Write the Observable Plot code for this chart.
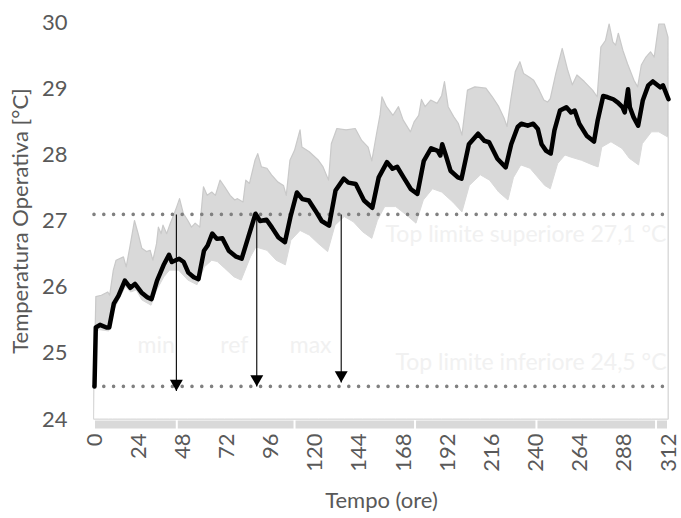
<!DOCTYPE html>
<html><head><meta charset="utf-8">
<script src="https://cdn.jsdelivr.net/npm/d3@7"></script>
<script src="https://cdn.jsdelivr.net/npm/@observablehq/plot@0.6"></script>
<style>body{margin:0;background:#fff}#chart{width:681px;height:518px}</style>
</head><body><div id="chart"></div>
<script>
// ---- data ----
const xTicks = [0,24,48,72,96,120,144,168,192,216,240,264,288,312];
const yTicks = [24,25,26,27,28,29,30];

const refHours = [0,0.7,3,6.5,8,10.5,13,16.5,19.5,22,25.5,28.5,31,34,37.5,40.5,42,46,48.5,51,54,56.5,59.5,61.5,64,66.5,69.5,73,77,80,83.5,87.5,90,93.5,96.5,100,103.5,106.5,110,113,116.5,120,123.5,127.5,131,135.5,138,142,146.5,151,154.5,159,162,164.5,168,172,175.5,179,183,186.5,188,189,191,193.5,197.5,199.5,203.5,208.5,212,214.5,219,223.5,226.5,230,232,235.5,238.5,241,243,245.5,248,250,253,256.5,259,261,263.5,267.5,271.5,273.5,276.5,279,282,284.5,287,288.2,290,291,293,295.5,298,301,303.5,307.5,309,312];
const refTemp = [24.5,25.39,25.43,25.39,25.39,25.75,25.87,26.1,25.99,26.05,25.92,25.85,25.82,26.1,26.33,26.49,26.38,26.43,26.38,26.22,26.15,26.12,26.55,26.63,26.81,26.73,26.74,26.55,26.46,26.43,26.75,27.11,27.0,27.02,26.9,26.75,26.68,27.06,27.43,27.33,27.31,27.16,27.0,26.93,27.46,27.64,27.58,27.56,27.31,27.2,27.66,27.89,27.79,27.82,27.66,27.48,27.41,27.91,28.1,28.06,27.99,28.16,27.99,27.76,27.66,27.64,28.16,28.32,28.21,28.19,27.94,27.81,28.16,28.42,28.47,28.44,28.47,28.39,28.16,28.06,28.02,28.37,28.67,28.72,28.64,28.67,28.47,28.29,28.2,28.52,28.89,28.87,28.84,28.79,28.72,28.64,28.99,28.72,28.57,28.44,28.82,29.05,29.11,29.02,29.05,28.84];

const maxHours = [0,1,4,7.5,8.5,10.5,12,16,17.5,19.5,22,24,26,28.5,30.5,32,34,35,36.5,37.5,39.5,41.5,43,45,46.5,48.5,51,53,55,57.5,59.5,61.5,64,66,68.5,71,74,76.5,78,81,82.5,84.5,87.5,89,91,94,96.5,100,103,104.5,106.5,109,112,113,117,122,124.5,127.5,129,132,137,142,145.5,149,151,153.5,155.5,156.5,159,162.5,165.5,168,172,174,176.5,178,180,183,186.5,189,190.5,192.5,195.5,198,200,203,207,213,216.5,220,223,224.5,226.5,229,231.5,233.5,236.5,239,242,244.5,246.5,248,251,254.5,257.5,260,262.5,266.5,271,273.5,275.5,278,280,282,283.5,285,287.5,290,293.5,295.5,297.5,300,302.5,304.5,307,310,312];
const maxTemp = [24.5,25.85,25.87,25.92,25.87,26.25,26.4,26.45,26.3,26.6,27.0,26.8,26.58,26.53,26.55,26.4,26.65,26.9,26.8,26.93,26.8,26.96,27.06,27.21,27.33,27.11,27.0,26.9,26.96,26.9,27.51,27.38,27.43,27.38,27.61,27.51,27.38,27.31,27.33,27.28,27.61,27.56,27.91,28.01,27.81,27.79,27.69,27.58,27.53,27.38,27.91,28.06,28.37,28.11,28.04,27.91,27.81,27.61,28.16,28.39,28.37,28.39,28.21,28.11,27.9,28.3,28.6,28.87,28.72,28.59,28.72,28.52,28.34,28.49,28.59,28.83,28.72,28.82,28.77,28.89,29.1,28.72,28.57,28.47,28.29,28.97,29.02,29.0,28.87,28.72,28.54,28.42,28.82,29.25,29.4,29.22,29.17,29.12,28.97,28.82,28.79,28.84,29.22,29.6,29.27,29.05,29.2,29.1,28.97,28.87,29.62,29.72,29.97,29.7,29.65,29.83,29.57,29.37,29.12,29.02,29.35,29.47,29.55,29.47,29.97,29.97,29.77];

const minHours = [0,1,3,8,10,13,17,20,23,26,31,34,38,41,46,51,56,60,64,67,71,76,80,85,88,94,99,104,107,112,117,122,127,131,136,141,146,151,154,158,164,170,175,179,184,189,195,200,204,210,215,220,225,228,232,237,241,245,248,252,256,259,265,271,274,276,281,287,291,296,298,303,307,312];
const minTemp = [24.5,25.33,25.35,25.33,25.6,25.78,26.0,25.92,25.95,25.8,25.72,25.95,26.15,26.25,26.25,26.1,26.03,26.3,26.4,26.38,26.28,26.15,26.1,26.45,26.6,26.55,26.4,26.33,26.7,26.85,26.78,26.65,26.53,26.93,27.06,26.98,26.83,26.73,27.0,27.21,27.21,27.08,26.96,27.31,27.48,27.43,27.28,27.13,27.53,27.69,27.61,27.43,27.31,27.65,27.84,27.79,27.66,27.53,27.48,27.86,27.99,27.96,27.91,27.84,27.81,28.11,28.19,28.09,27.94,27.84,28.16,28.34,28.34,28.26];

const limitValues = [27.1, 24.5];
const limitLabels = ["Top limite superiore 27,1 °C", "Top limite inferiore 24,5 °C"];
const limitLabelTemp = [26.8, 24.86];

const arrowNames = ["min", "ref", "max"];
const arrowHours = [44.5, 88.2, 134.1];
const arrowTipTemp = [24.43, 24.5, 24.56];
const nameHours = [33.5, 76, 117.5];
const nameTemp = [25.12, 25.12, 25.12];

const bandEdges = [0, 45, 109, 174.5, 240.5, 305.5, 312];
const axisBase = 24;

// ---- tables ----
const refRows = refHours.map((h, i) => ({h, t: refTemp[i]}));
const maxRows = maxHours.map((h, i) => ({h, t: maxTemp[i]}));
const minRows = minHours.map((h, i) => ({h, t: minTemp[i]}));
const arrowRows = arrowHours.map((h, i) => ({h, tip: arrowTipTemp[i], top: limitValues[0]}));
const nameRows = arrowNames.map((n, i) => ({n, h: nameHours[i], t: nameTemp[i]}));
const limitRows = limitLabels.map((l, i) => ({l, t: limitLabelTemp[i]}));
const bandRows = d3.pairs(bandEdges).map(([a, b]) => ({a, b}));

const font = "Lato, 'Open Sans', sans-serif";

const chart = Plot.plot({
  width: 681,
  height: 518,
  marginLeft: 94,
  marginRight: 13,
  marginTop: 22,
  marginBottom: 99,
  style: {fontFamily: font, fontSize: "22px", color: "#595959", background: "white"},
  x: {
    domain: [0, 312],
    ticks: xTicks,
    tickFormat: d => String(d),
    tickRotate: -90,
    tickSize: 0,
    tickPadding: 14,
    label: "Tempo (ore)",
    labelAnchor: "center",
    labelArrow: "none",
    labelOffset: 88
  },
  y: {
    domain: [24, 30],
    ticks: yTicks,
    tickFormat: d => String(d),
    tickSize: 0,
    tickPadding: 27,
    label: "Temperatura Operativa [°C]",
    labelAnchor: "center",
    labelArrow: "none",
    labelOffset: 82
  },
  marks: [
    Plot.areaY(maxRows, {x: "h", y1: axisBase, y2: "t", fill: "#d9d9d9", stroke: "#c9c9c9", strokeWidth: 1.2}),
    Plot.areaY(minRows, {x: "h", y1: axisBase, y2: "t", fill: "white", stroke: "#d9d9d9", strokeWidth: 1}),
    Plot.ruleY(bandRows, {y: axisBase, x1: "a", x2: "b", stroke: "#d9d9d9", strokeWidth: 8, dy: 5, insetLeft: 1, insetRight: 1}),
    Plot.ruleY(limitValues, {stroke: "#808080", strokeWidth: 3.6, strokeDasharray: "0 9.8", strokeLinecap: "round"}),
    Plot.text(nameRows, {x: "h", y: "t", text: "n", fill: "#f1f1f1", fontSize: 23, fontFamily: font}),
    Plot.text(limitRows, {x: 312, y: "t", text: "l", textAnchor: "end", fill: "#f1f1f1", fontSize: 23, fontFamily: font, dx: -2}),
    Plot.line(refRows, {x: "h", y: "t", stroke: "black", strokeWidth: 4.5, strokeLinejoin: "round", strokeLinecap: "round"}),
    Plot.link(arrowRows, {x1: "h", x2: "h", y1: "top", y2: "tip", stroke: "black", strokeWidth: 1.1}),
    Plot.dot(arrowRows, {x: "h", y: "tip", symbol: "triangle", rotate: 180, r: 4.8, fill: "black", stroke: "none", dy: -7.5})
  ]
});
document.getElementById("chart").appendChild(chart);
</script>
</body></html>
